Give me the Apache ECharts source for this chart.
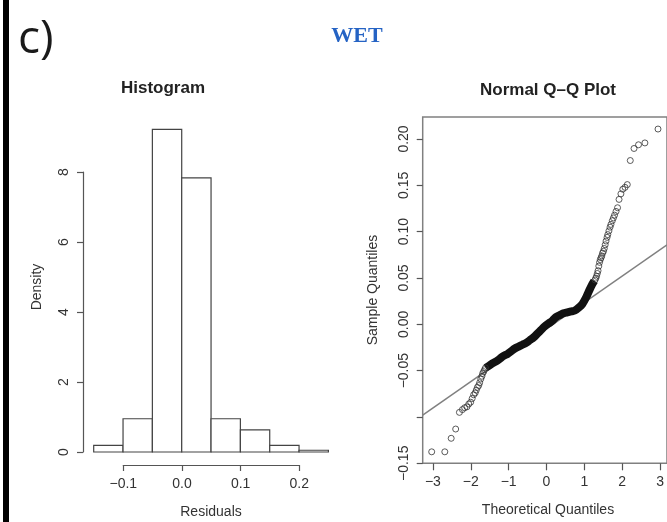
<!DOCTYPE html>
<html>
<head>
<meta charset="utf-8">
<script src="https://cdn.jsdelivr.net/npm/echarts@6/dist/echarts.min.js"></script>
<style>
html,body{margin:0;padding:0;background:#fff;}
#chart{width:667px;height:522px;}
</style>
</head>
<body>
<div id="chart"></div>
<script>
// ---------- Histogram data ----------
const binEdges = [-0.15, -0.10, -0.05, 0.00, 0.05, 0.10, 0.15, 0.20, 0.25];
const densities = [0.19, 0.95, 9.22, 7.83, 0.95, 0.63, 0.19, 0.05];
const histYTicks = [0, 2, 4, 6, 8];
const histXTicks = [-0.1, 0.0, 0.1, 0.2];

// ---------- Q-Q plot data ----------
// lower tail (theoretical, sample)
const lowT = [-3.02, -2.67, -2.50, -2.38, -2.28, -2.20, -2.14, -2.08, -2.03, -1.98, -1.94, -1.90, -1.86, -1.83, -1.80, -1.765, -1.74, -1.71, -1.68, -1.66, -1.633, -1.61, -1.586];
const lowV = [-0.1376, -0.1376, -0.123, -0.113, -0.095, -0.092, -0.090, -0.089, -0.086, -0.084, -0.080, -0.076, -0.074, -0.071, -0.068, -0.066, -0.063, -0.059, -0.056, -0.053, -0.051, -0.049, -0.047];
// dense central band
const coreT = [-1.58, -1.5, -1.4, -1.3, -1.2, -1.1, -1.0, -0.9, -0.8, -0.7, -0.6, -0.5, -0.4, -0.3, -0.2, -0.1, 0.0, 0.1, 0.2, 0.3, 0.4, 0.5, 0.6, 0.7, 0.8, 0.9, 1.0, 1.1, 1.2, 1.26, 1.32];
const coreV = [-0.047, -0.045, -0.042, -0.040, -0.037, -0.034, -0.032, -0.029, -0.026, -0.024, -0.022, -0.020, -0.017, -0.014, -0.010, -0.006, -0.002, 0.001, 0.004, 0.008, 0.010, 0.012, 0.013, 0.014, 0.015, 0.018, 0.022, 0.029, 0.038, 0.043, 0.047];
// upper tail
const highT = [1.34, 1.36, 1.38, 1.40, 1.42, 1.44, 1.46, 1.48, 1.50, 1.52, 1.54, 1.565, 1.586, 1.61, 1.633, 1.66, 1.68, 1.71, 1.74, 1.765, 1.80, 1.83, 1.86, 1.90, 1.94, 1.98, 2.03, 2.08, 2.14, 2.20, 2.28, 2.38, 2.50, 2.67, 3.02];
const highV = [0.048, 0.050, 0.052, 0.055, 0.058, 0.063, 0.067, 0.070, 0.072, 0.074, 0.077, 0.079, 0.082, 0.086, 0.090, 0.094, 0.097, 0.101, 0.105, 0.108, 0.112, 0.115, 0.118, 0.122, 0.126, 0.135, 0.141, 0.146, 0.148, 0.151, 0.177, 0.190, 0.194, 0.196, 0.211];
// reference line (qqline) end points
const qqLineT = [-3.26, 3.26];
const qqLineV = [-0.098, 0.086];
const qqXTicks = [-3, -2, -1, 0, 1, 2, 3];
const qqYTicks = [-0.15, -0.10, -0.05, 0.00, 0.05, 0.10, 0.15, 0.20];

const FONT = '"Liberation Sans", Arial, sans-serif';
const TXT = '#333';
const AX = '#555';
const minus = s => s.replace('-', '\u2212');

const zip = (a, b) => a.map((v, i) => [v, b[i]]);
const histData = densities.map((d, i) => [binEdges[i], binEdges[i + 1], d]);

const hiddenAxis = (extra) => Object.assign({
  show: false, axisLine: {show: false}, axisTick: {show: false},
  axisLabel: {show: false}, splitLine: {show: false}
}, extra);

const chart = echarts.init(document.getElementById('chart'), null, {renderer: 'canvas'});
chart.setOption({
  backgroundColor: '#fff',
  animation: false,
  grid: [
    {left: 93.7, top: 123, width: 234.7, height: 329},
    {left: 83, top: 172, width: 20, height: 280},
    {left: 123.3, top: 400, width: 176, height: 65},
    {left: 422.7, top: 117, width: 252.3, height: 346.3, show: true, borderColor: '#808080', borderWidth: 1.5, backgroundColor: 'transparent'},
    {left: 432.9, top: 400, width: 232.2, height: 63.3},
    {left: 422.7, top: 139, width: 20, height: 324.3}
  ],
  xAxis: [
    hiddenAxis({type: 'value', gridIndex: 0, min: -0.15, max: 0.25}),
    hiddenAxis({type: 'value', gridIndex: 1, min: 0, max: 1}),
    {type: 'value', gridIndex: 2, min: -0.1, max: 0.2, interval: 0.1,
      axisLine: {show: true, lineStyle: {color: AX, width: 1.2}},
      axisTick: {show: true, inside: false, length: 6, lineStyle: {color: AX, width: 1.2}},
      splitLine: {show: false},
      axisLabel: {margin: 12, color: TXT, fontFamily: FONT, fontSize: 14,
        formatter: v => minus(v.toFixed(1))}},
    hiddenAxis({type: 'value', gridIndex: 3, min: -3.26, max: 3.26}),
    {type: 'value', gridIndex: 4, min: -3, max: 3, interval: 1,
      axisLine: {show: false},
      axisTick: {show: true, inside: false, length: 7, lineStyle: {color: AX, width: 1.2}},
      splitLine: {show: false},
      axisLabel: {margin: 12, color: TXT, fontFamily: FONT, fontSize: 14,
        formatter: v => minus(String(v))}},
    hiddenAxis({type: 'value', gridIndex: 5, min: 0, max: 1})
  ],
  yAxis: [
    hiddenAxis({type: 'value', gridIndex: 0, min: 0, max: 9.4}),
    {type: 'value', gridIndex: 1, min: 0, max: 8, interval: 2,
      axisLine: {show: true, lineStyle: {color: AX, width: 1.2}},
      axisTick: {show: true, inside: false, length: 6, lineStyle: {color: AX, width: 1.2}},
      splitLine: {show: false},
      axisLabel: {margin: 12, rotate: 90, color: TXT, fontFamily: FONT, fontSize: 14}},
    hiddenAxis({type: 'value', gridIndex: 2, min: 0, max: 1}),
    hiddenAxis({type: 'value', gridIndex: 3, min: -0.15, max: 0.224}),
    hiddenAxis({type: 'value', gridIndex: 4, min: 0, max: 1}),
    {type: 'value', gridIndex: 5, min: -0.15, max: 0.20, interval: 0.05,
      axisLine: {show: false},
      axisTick: {show: true, inside: false, length: 6, lineStyle: {color: AX, width: 1.2}},
      splitLine: {show: false},
      axisLabel: {margin: 12, rotate: 90, color: TXT, fontFamily: FONT, fontSize: 14,
        formatter: v => (Math.abs(v + 0.10) < 1e-9 ? '' : minus(v.toFixed(2)))}}
  ],
  graphic: [
    {type: 'rect', left: 3, top: 0, shape: {width: 6, height: 522}, style: {fill: '#000'}},
    {type: 'text', x: 18, y: 40, style: {text: 'c)', font: '400 46px "Open Sans", "Liberation Sans", sans-serif', fill: '#1a1a1a', textVerticalAlign: 'middle'}},
    {type: 'text', x: 357, y: 36, style: {text: 'WET', font: 'bold 22px "Liberation Serif", "Times New Roman", serif', fill: '#2563c4', textAlign: 'center', textVerticalAlign: 'middle'}},
    {type: 'text', x: 163, y: 88, style: {text: 'Histogram', font: 'bold 17px ' + FONT, fill: '#222', textAlign: 'center', textVerticalAlign: 'middle'}},
    {type: 'text', x: 548, y: 90, style: {text: 'Normal Q\u2013Q Plot', font: 'bold 17px ' + FONT, fill: '#222', textAlign: 'center', textVerticalAlign: 'middle'}},
    {type: 'text', x: 37, y: 287, rotation: Math.PI / 2, style: {text: 'Density', font: '14px ' + FONT, fill: TXT, textAlign: 'center', textVerticalAlign: 'middle'}},
    {type: 'text', x: 211, y: 512, style: {text: 'Residuals', font: '14px ' + FONT, fill: TXT, textAlign: 'center', textVerticalAlign: 'middle'}},
    {type: 'text', x: 373, y: 290, rotation: Math.PI / 2, style: {text: 'Sample Quantiles', font: '14px ' + FONT, fill: TXT, textAlign: 'center', textVerticalAlign: 'middle'}},
    {type: 'text', x: 548, y: 510, style: {text: 'Theoretical Quantiles', font: '14px ' + FONT, fill: TXT, textAlign: 'center', textVerticalAlign: 'middle'}}
  ],
  series: [
    {
      type: 'custom', xAxisIndex: 0, yAxisIndex: 0, data: histData,
      renderItem: function (params, api) {
        const p0 = api.coord([api.value(0), 0]);
        const p1 = api.coord([api.value(1), api.value(2)]);
        return {type: 'rect',
          shape: {x: p0[0], y: p1[1], width: p1[0] - p0[0], height: p0[1] - p1[1]},
          style: {fill: '#fff', stroke: '#444', lineWidth: 1.2}};
      }
    },
    {
      type: 'line', xAxisIndex: 3, yAxisIndex: 3, data: zip(qqLineT, qqLineV),
      showSymbol: false, clip: true, lineStyle: {color: '#808080', width: 1.5}, z: 1
    },
    {
      type: 'line', xAxisIndex: 3, yAxisIndex: 3, data: zip(coreT, coreV),
      showSymbol: false, smooth: 0.3, lineStyle: {color: '#111', width: 8}, z: 2
    },
    {
      type: 'scatter', xAxisIndex: 3, yAxisIndex: 3,
      data: zip(lowT, lowV).concat(zip(highT, highV)),
      symbol: 'circle', symbolSize: 6,
      itemStyle: {color: 'transparent', borderColor: '#333', borderWidth: 1}, z: 3
    }
  ]
});
</script>
</body>
</html>
